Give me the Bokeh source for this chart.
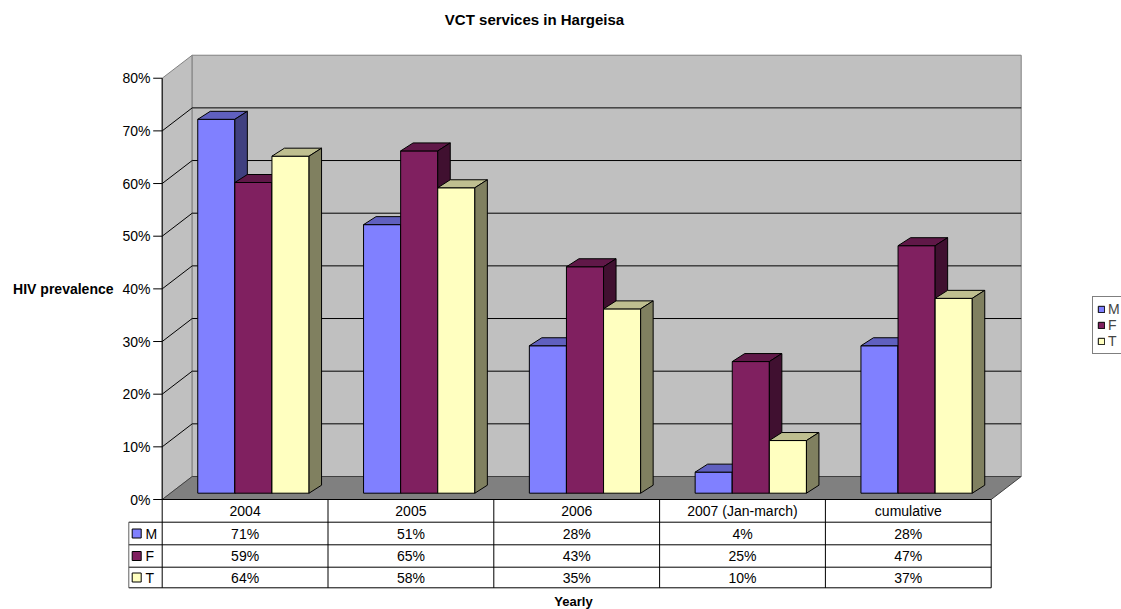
from bokeh.plotting import figure
from bokeh.models import Legend, LegendItem, Range1d
from bokeh.core.properties import value
from bokeh.embed import file_html
from bokeh.resources import INLINE

# ---------------- data ----------------
categories = ["2004", "2005", "2006", "2007 (Jan-march)", "cumulative"]
series_names = ["M", "F", "T"]
m_values = [71, 51, 28, 4, 28]
f_values = [59, 65, 43, 25, 47]
t_values = [64, 58, 35, 10, 37]
y_ticks = [0, 10, 20, 30, 40, 50, 60, 70, 80]
tick_labels = ["0%", "10%", "20%", "30%", "40%", "50%", "60%", "70%", "80%"]
title_text = "VCT services in Hargeisa"
y_title = "HIV prevalence"
x_title = "Yearly"

front_colors = ["#8080FF", "#802060", "#FFFFC0"]
top_colors = ["#6060BF", "#601848", "#BFBF90"]
side_colors = ["#404080", "#401030", "#808060"]

FONT = value("Liberation Sans")
series_values = [m_values, f_values, t_values]
ncat = len(categories)
ymax = y_ticks[-1]

# ---------------- layout (pixel based) ----------------
W, H = 1121, 609
KX = 165.8           # px per category
KY = 5.266           # px per percent
X0 = 161.7           # px of the front-left corner
Y0 = 499             # px (from top) of the 0% front line

def px_x(d):
    return d / KX

def px_y(d):
    return d / KY

WX, WY = px_x(30), px_y(23)      # wall depth
OX, OY = px_x(8.3), px_y(6.3)    # bar front face offset
DX, DY = px_x(12.5), px_y(8)     # bar depth
BW = px_x(37.1)                  # bar width

p = figure(width=W, height=H, output_backend="svg", toolbar_location=None,
           x_axis_type=None, y_axis_type=None, min_border=0,
           x_range=Range1d(-X0 / KX, (W - X0) / KX),
           y_range=Range1d((Y0 - H) / KY, Y0 / KY))
p.outline_line_color = None
p.background_fill_color = "white"
p.border_fill_color = "white"

# ---------------- walls & floor ----------------
p.patch([0, WX, WX, 0], [0, WY, ymax + WY, ymax], fill_color="#C0C0C0",
        line_color="#808080", line_width=1)
p.patch([WX, ncat + WX, ncat + WX, WX], [WY, WY, ymax + WY, ymax + WY],
        fill_color="#C0C0C0", line_color="#808080", line_width=1)
p.patch([0, ncat, ncat + WX, WX], [0, 0, WY, WY], fill_color="#808080",
        line_color="#404040", line_width=1)

grid_t = [t for t in y_ticks if 0 < t < ymax]
p.segment(x0=[WX] * len(grid_t), y0=[t + WY for t in grid_t],
          x1=[ncat + WX] * len(grid_t), y1=[t + WY for t in grid_t],
          line_color="black", line_width=1)
p.segment(x0=[0] * len(grid_t), y0=grid_t,
          x1=[WX] * len(grid_t), y1=[t + WY for t in grid_t],
          line_color="black", line_width=1)

# ---------------- bars ----------------
legend_items = []
for s, vals in enumerate(series_values):
    left = [i + 0.5 - 1.5 * BW + s * BW + OX for i in range(ncat)]
    right = [l + BW for l in left]
    bottom = [OY] * ncat
    top = [OY + v for v in vals]
    r = p.quad(left=left, right=right, bottom=bottom, top=top,
               fill_color=front_colors[s], line_color="black", line_width=1)
    legend_items.append(LegendItem(label=series_names[s], renderers=[r]))
    p.patches(xs=[[l, rr, rr + DX, l + DX] for l, rr in zip(left, right)],
              ys=[[t, t, t + DY, t + DY] for t in top],
              fill_color=top_colors[s], line_color="black", line_width=1)
    p.patches(xs=[[rr, rr + DX, rr + DX, rr] for rr in right],
              ys=[[b, b + DY, t + DY, t] for b, t in zip(bottom, top)],
              fill_color=side_colors[s], line_color="black", line_width=1)

# ---------------- y axis ----------------
rows = [-px_y(d) for d in (0, 22.7, 45.3, 67.7, 88.3)]
legcol = -px_x(33.4)

p.segment(x0=[0], y0=[ymax], x1=[0], y1=[rows[-1]], line_color="black", line_width=1)
p.segment(x0=[-px_x(9)] * len(y_ticks), y0=y_ticks, x1=[0] * len(y_ticks), y1=y_ticks,
          line_color="black", line_width=1)
p.text(x=[-px_x(11.7)] * len(y_ticks), y=y_ticks, text=tick_labels,
       text_font=FONT, text_font_size=value("14px"), text_align="right",
       text_baseline="middle", text_color="black")
p.text(x=[-px_x(48.7)], y=[ymax / 2], text=[y_title], text_font=FONT,
       text_font_size=value("14px"), text_font_style="bold", text_align="right",
       text_baseline="middle", text_color="black")

# ---------------- data table ----------------
p.segment(x0=[legcol] * 4, y0=rows[1:], x1=[ncat] * 4, y1=rows[1:],
          line_color="black", line_width=1)
p.segment(x0=[legcol], y0=[rows[1]], x1=[legcol], y1=[rows[-1]],
          line_color="#606060", line_width=1)
p.segment(x0=list(range(1, ncat + 1)), y0=[rows[0]] * ncat,
          x1=list(range(1, ncat + 1)), y1=[rows[-1]] * ncat,
          line_color="black", line_width=1)
p.segment(x0=[0], y0=[rows[0]], x1=[ncat], y1=[rows[0]], line_color="black", line_width=1)

p.text(x=[i + 0.5 for i in range(ncat)], y=[(rows[0] + rows[1]) / 2] * ncat,
       text=categories, text_font=FONT, text_font_size=value("14px"),
       text_align="center", text_baseline="middle", text_color="black")
for s, vals in enumerate(series_values):
    yc = (rows[s + 1] + rows[s + 2]) / 2
    p.text(x=[i + 0.5 for i in range(ncat)], y=[yc] * ncat,
           text=[f"{v}%" for v in vals], text_font=FONT, text_font_size=value("14px"),
           text_align="center", text_baseline="middle", text_color="black")
    p.quad(left=[-px_x(30)], right=[-px_x(21)], bottom=[yc - px_y(4.5)], top=[yc + px_y(4.5)],
           fill_color=front_colors[s], line_color="black", line_width=1)
    p.text(x=[-px_x(16.7)], y=[yc], text=[series_names[s]], text_font=FONT,
           text_font_size=value("14px"), text_align="left", text_baseline="middle",
           text_color="black")

# ---------------- titles ----------------
p.text(x=[px_x(534 - X0)], y=[px_y(Y0 - 19)], text=[title_text], text_font=FONT,
       text_font_size=value("15px"), text_font_style="bold", text_align="center",
       text_baseline="middle", text_color="black")
p.text(x=[px_x(573 - X0)], y=[px_y(Y0 - 601)], text=[x_title], text_font=FONT,
       text_font_size=value("13px"), text_font_style="bold", text_align="center",
       text_baseline="middle", text_color="black")

# ---------------- legend ----------------
legend = Legend(items=legend_items, location=(1092, 255), orientation="vertical",
                border_line_color="black", border_line_width=1,
                background_fill_color="white", background_fill_alpha=1,
                label_text_font="Liberation Sans", label_text_font_size="14px",
                label_text_line_height=0.75,
                glyph_width=8, glyph_height=8, label_height=10, label_standoff=3,
                spacing=0, padding=4, margin=0)
p.add_layout(legend)

open("out.html", "w").write(file_html(p, INLINE))
